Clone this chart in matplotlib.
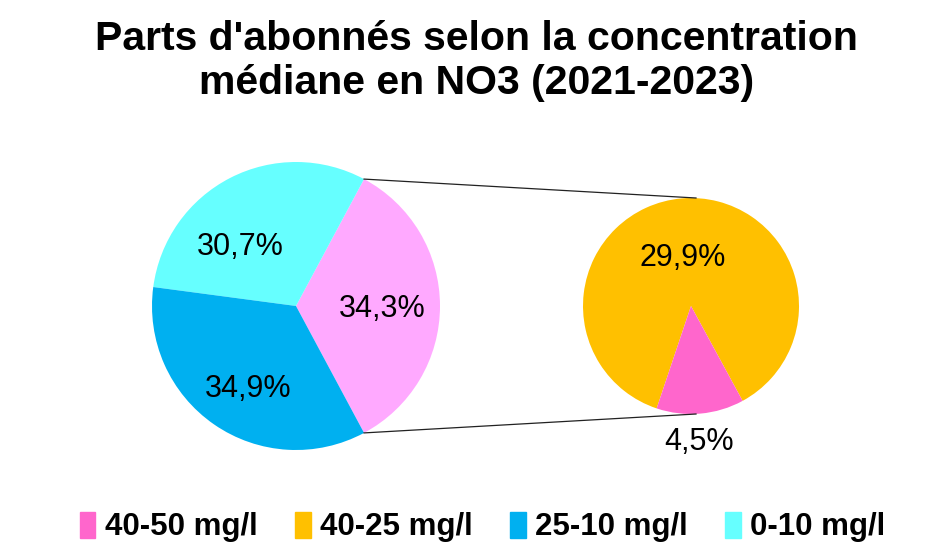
import numpy as np
import matplotlib
matplotlib.use("Agg")
import matplotlib.pyplot as plt
import matplotlib.patches as mpatches

# data
title = "Parts d'abonnés selon la concentration\nmédiane en NO3 (2021-2023)"
main_values = [34.3, 30.7, 34.9]
main_labels = ["34,3%", "30,7%", "34,9%"]
main_colors = ["#ffa9ff", "#66ffff", "#00b0f0"]
sub_values = [29.9, 4.5]
sub_labels = ["29,9%", "4,5%"]
sub_colors = ["#ffc000", "#ff66cc"]
legend_labels = ["40-50 mg/l", "40-25 mg/l", "25-10 mg/l", "0-10 mg/l"]
legend_colors = ["#ff66cc", "#ffc000", "#00b0f0", "#66ffff"]

W, H = 941, 555
fig = plt.figure(figsize=(W / 100, H / 100), dpi=100)
ax = fig.add_axes([0, 0, 1, 1])

font = "Liberation Sans"

# main pie, "other" wedge centred on the right
c1, r1 = (296, H - 306), 144
start1 = -main_values[0] / sum(main_values) * 180
w1, _ = ax.pie(main_values, colors=main_colors, startangle=start1,
               center=c1, radius=r1, counterclock=True,
               wedgeprops=dict(linewidth=0))
dists1 = [0.6, 0.58, 0.65]
shift1 = [0, 15, 4]   # angle nudges for label placement
for w, lab, d, s in zip(w1, main_labels, dists1, shift1):
    ang = np.deg2rad((w.theta1 + w.theta2) / 2 + s)
    ax.text(c1[0] + d * r1 * np.cos(ang), c1[1] + d * r1 * np.sin(ang) - 3, lab,
            ha="center", va="center", fontsize=22, family=font)

# secondary pie, small slice at the bottom
c2, r2 = (691, H - 306), 108
tot2 = sum(sub_values)
start2 = 275 + sub_values[1] / tot2 * 180
w2, _ = ax.pie(sub_values, colors=sub_colors, startangle=start2,
               center=c2, radius=r2, counterclock=True,
               wedgeprops=dict(linewidth=0))
dists2 = [0.47, 1.24]
for w, lab, d in zip(w2, sub_labels, dists2):
    ang = np.deg2rad((w.theta1 + w.theta2) / 2)
    ax.text(c2[0] + d * r2 * np.cos(ang) - 4, c2[1] + d * r2 * np.sin(ang) - 3, lab,
            ha="center", va="center", fontsize=22, family=font)

# connector lines
other = w1[0]
for t1, t2 in [(other.theta2, 90), (other.theta1, 270)]:
    a1, a2 = np.deg2rad(t1), np.deg2rad(t2)
    ax.plot([c1[0] + r1 * np.cos(a1), c2[0] + r2 * np.cos(a2) + 5],
            [c1[1] + r1 * np.sin(a1), c2[1] + r2 * np.sin(a2)],
            color="#222222", lw=0.9)

# pie() resets the limits, so set them afterwards
ax.set_xlim(0, W)
ax.set_ylim(0, H)
ax.set_aspect("equal")
ax.axis("off")

fig.text(0.506, 1 - 61 / H, title, ha="center", va="center",
         fontsize=29.5, fontweight="bold", family=font, linespacing=1.18)

handles = [mpatches.Patch(color=c, label=l) for c, l in zip(legend_colors, legend_labels)]
leg = fig.legend(handles=handles, loc="center", bbox_to_anchor=(0.513, 1 - 527 / H),
                 ncol=4, frameon=False, handlelength=0.5, handleheight=0.9,
                 handletextpad=0.3, columnspacing=1.2,
                 prop=dict(family=font, weight="bold", size=22.5))

fig.savefig("out.png", dpi=100)
